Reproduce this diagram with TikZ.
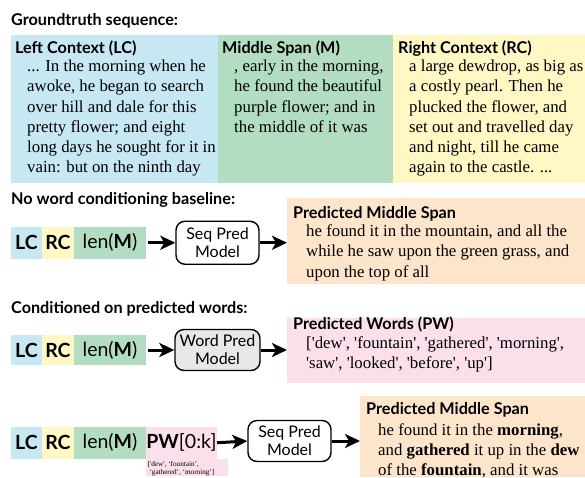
\documentclass[tikz,border=0pt]{standalone}
\usepackage{fontspec}
\setmainfont{Liberation Serif}[Ligatures=TeXOff]
\newfontfamily\hsans{Lato}
\usetikzlibrary{arrows.meta}
\definecolor{cLC}{RGB}{199,232,242}
\definecolor{cM}{RGB}{178,221,195}
\definecolor{cRC}{RGB}{255,248,196}
\definecolor{cPeach}{RGB}{253,229,203}
\definecolor{cPink}{RGB}{251,224,235}
\definecolor{cGray}{RGB}{232,232,232}
\newcommand\tlines[1]{\vtop{\halign{##\hfil\cr#1\crcr}}}
\tikzset{
  panel/.style={inner sep=0, outer sep=0, anchor=north west},
  sechead/.style={font=\hsans\bfseries\fontsize{16.2}{18}\selectfont, anchor=base west, inner sep=0},
  bodytext/.style={font=\fontsize{16.8}{20.2}\selectfont, anchor=base west, inner sep=0},
  tok/.style={font=\hsans\fontsize{19.5}{22}\selectfont, inner sep=0, outer sep=0, anchor=north west},
  modelbox/.style={draw, line width=1.4pt, rounded corners=9pt, inner sep=0, align=center,
     font=\hsans\fontsize{16}{18}\selectfont},
  arr/.style={line width=3pt, -{Stealth[length=15pt,width=14pt,inset=4pt]}}
}
\begin{document}
\begin{tikzpicture}[x=1pt,y=-1pt]
\useasboundingbox (0,0) rectangle (585,477);
% ---------- Groundtruth ----------
\node[sechead] (gt) at (11,25) {Groundtruth sequence:};
\node[panel, fill=cLC, minimum width=207, minimum height=148] (lcBox) at (11,35) {};
\node[panel, fill=cM, minimum width=175, minimum height=148] (mBox) at (218,35) {};
\node[panel, fill=cRC, minimum width=192, minimum height=148] (rcBox) at (393,35) {};
\node[sechead] (lcHead) at (15,53) {Left Context (LC)};
\node[sechead] (mHead) at (222,53) {Middle Span (M)};
\node[sechead] (rcHead) at (398,53) {Right Context (RC)};
\node[bodytext] (lcText) at (27,71.7) {\tlines{... In the morning when he\cr awoke, he began to search\cr over hill and dale for this\cr pretty flower; and eight\cr long days he sought for it in\cr vain: but on the ninth day}};
\node[bodytext] (mText) at (234,71.7) {\tlines{, early in the morning,\cr he found the beautiful\cr purple flower; and in\cr the middle of it was}};
\node[bodytext] (rcText) at (409,71.7) {\tlines{a large dewdrop, as big as\cr a costly pearl. Then he\cr plucked the flower, and\cr set out and travelled day\cr and night, till he came\cr again to the castle. ...}};
% ---------- Baseline ----------
\node[sechead] (nw) at (11,204) {No word conditioning baseline:};
\node[tok, fill=cLC, minimum width=31, minimum height=32.5] (lc1) at (11,226.5) {\bfseries LC};
\node[tok, fill=cRC, minimum width=32, minimum height=32.5] (rc1) at (42,226.5) {\bfseries RC};
\node[tok, fill=cM, minimum width=72, minimum height=32.5] (len1) at (74,226.5) {len(\textbf{M})};
\node[modelbox, minimum width=83, minimum height=43] (seq1) at (217.5,242.75) {Seq Pred\\Model};
\node[panel, fill=cPeach, minimum width=298, minimum height=86] (pk1) at (287,198.3) {};
\node[sechead] (pk1Head) at (293,218) {Predicted Middle Span};
\node[bodytext] (pk1Text) at (306,236.7) {\tlines{he found it in the mountain, and all the\cr while he saw upon the green grass, and\cr upon the top of all}};
\draw[arr, shorten <=2pt] (len1.east) -- (seq1.west);
\draw[arr] (seq1.east) -- (seq1.east -| pk1.west);
% ---------- Conditioned ----------
\node[sechead] (cw) at (11,313) {Conditioned on predicted words:};
\node[tok, fill=cLC, minimum width=31, minimum height=30] (lc2) at (11,335) {\bfseries LC};
\node[tok, fill=cRC, minimum width=32, minimum height=30] (rc2) at (42,335) {\bfseries RC};
\node[tok, fill=cM, minimum width=72, minimum height=30] (len2) at (74,335) {len(\textbf{M})};
\node[modelbox, fill=cGray, minimum width=85, minimum height=41] (wp) at (217.5,350) {Word Pred\\Model};
\node[panel, fill=cPink, minimum width=298, minimum height=64.4] (pw) at (287,318.3) {};
\node[sechead] (pwHead) at (293,329.6) {Predicted Words (PW)};
\node[bodytext] (pwText) at (306,348.3) {\tlines{['dew', 'fountain', 'gathered', 'morning',\cr 'saw', 'looked', 'before', 'up']}};
\draw[arr, shorten <=2pt] (len2.east) -- (wp.west);
\draw[arr] (wp.east) -- (wp.east -| pw.west);
% ---------- Row 3 ----------
\node[tok, fill=cLC, minimum width=31, minimum height=31.5] (lc3) at (11,427) {\bfseries LC};
\node[tok, fill=cRC, minimum width=32, minimum height=31.5] (rc3) at (42,427) {\bfseries RC};
\node[tok, fill=cM, minimum width=72, minimum height=31.5] (len3) at (74,427) {len(\textbf{M})};
\node[panel, fill=cPink, minimum width=82, minimum height=17] (pwSmallBox) at (146,458.5) {};
\node[tok, fill=cPink, minimum width=71, minimum height=31.5] (pw3) at (146,427) {\textbf{PW}[0:k]};
\node[font=\fontsize{7.2}{7.6}\selectfont, anchor=base west, inner sep=0] (pwSmall) at (147.5,466.5) {\tlines{['dew', ‘fountain’,\cr \ ‘gathered’, ‘morning’]}};
\node[modelbox, minimum width=83, minimum height=41] (seq2) at (289.5,441) {Seq Pred\\Model};
\node[panel, fill=cPeach, minimum width=225, minimum height=81] (pk2) at (360,396) {};
\node[sechead] (pk2Head) at (366,414) {Predicted Middle Span};
\node[bodytext] (pk2Text) at (378,435) {\tlines{he found it in the \textbf{morning},\cr and \textbf{gathered} it up in the \textbf{dew}\cr of the \textbf{fountain}, and it was}};
\draw[arr] (pw3.east) -- (seq2.west);
\draw[arr] (seq2.east) -- (seq2.east -| pk2.west);
\end{tikzpicture}
\end{document}
